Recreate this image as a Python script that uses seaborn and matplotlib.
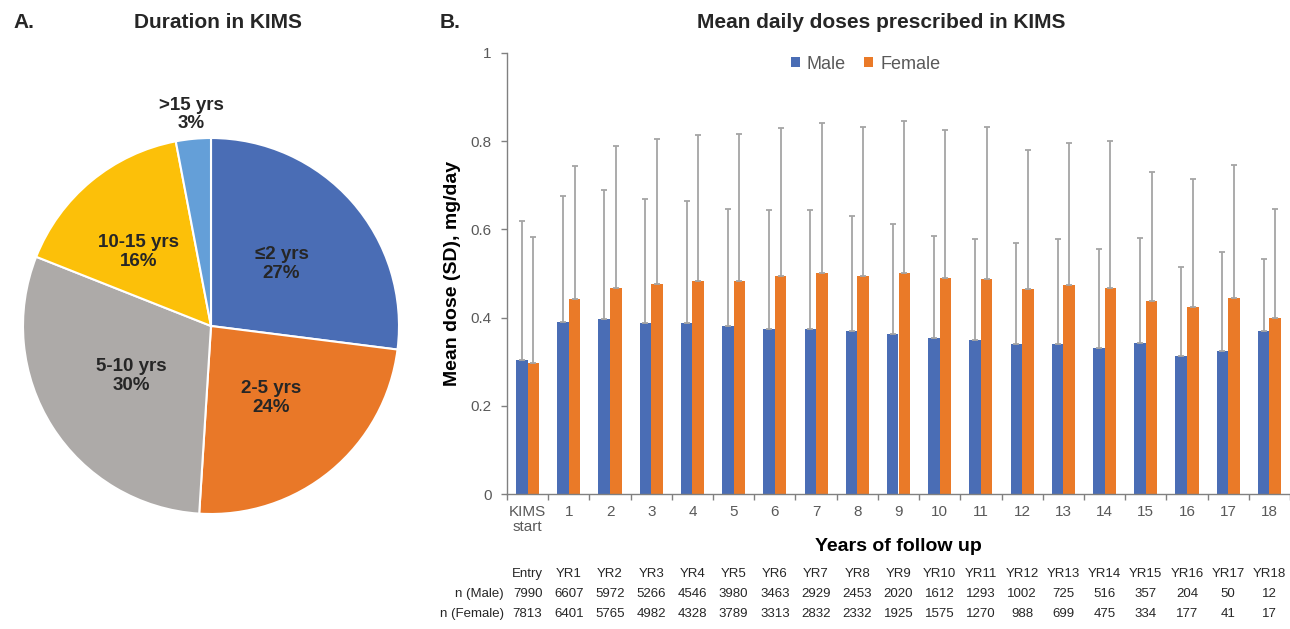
import numpy as np
import pandas as pd
import matplotlib
matplotlib.use("Agg")
import matplotlib.pyplot as plt
import matplotlib.transforms as mtransforms
import seaborn as sns

# Panel A: duration in KIMS
duration_labels = ["≤2 yrs", "2-5 yrs", "5-10 yrs", "10-15 yrs", ">15 yrs"]
duration_pct = [27, 24, 30, 16, 3]
duration_colors = ["#4A6DB5", "#E97828", "#ADAAA8", "#FCC009", "#649FD8"]

# Panel B: mean daily dose (SD) by year of follow up
years = ["KIMS\nstart"] + [str(i) for i in range(1, 19)]
male_mean = [0.304, 0.391, 0.396, 0.387, 0.387, 0.380, 0.375, 0.375, 0.369, 0.362,
             0.353, 0.350, 0.341, 0.341, 0.332, 0.343, 0.313, 0.325, 0.369]
male_sd = [0.315, 0.284, 0.293, 0.281, 0.278, 0.267, 0.268, 0.268, 0.262, 0.251,
           0.232, 0.229, 0.228, 0.238, 0.224, 0.238, 0.201, 0.224, 0.163]
female_mean = [0.297, 0.442, 0.467, 0.476, 0.483, 0.483, 0.495, 0.502, 0.495, 0.502,
               0.490, 0.488, 0.465, 0.474, 0.467, 0.437, 0.424, 0.444, 0.400]
female_sd = [0.286, 0.302, 0.323, 0.328, 0.332, 0.334, 0.336, 0.339, 0.338, 0.344,
             0.335, 0.344, 0.316, 0.321, 0.334, 0.293, 0.290, 0.302, 0.247]
sex_colors = ["#4A6DB5", "#EA7A28"]

# table below the bar chart
table_cols = ["Entry"] + ["YR%d" % i for i in range(1, 19)]
n_male = [7990, 6607, 5972, 5266, 4546, 3980, 3463, 2929, 2453, 2020,
          1612, 1293, 1002, 725, 516, 357, 204, 50, 12]
n_female = [7813, 6401, 5765, 4982, 4328, 3789, 3313, 2832, 2332, 1925,
            1575, 1270, 988, 699, 475, 334, 177, 41, 17]

sns.set_theme(style="ticks")
plt.rcParams["font.family"] = ["Liberation Sans", "DejaVu Sans"]

W, H = 1290, 629
fig = plt.figure(figsize=(W / 100, H / 100), dpi=100)
fig.patch.set_facecolor("white")

# ---- pie ----
ax_pie = fig.add_axes([23 / W, (H - 514) / H, 376 / W, 376 / H])
wedges, texts = ax_pie.pie(
    duration_pct, colors=duration_colors, startangle=90, counterclock=False,
    labels=["%s\n%d%%" % (l, p) for l, p in zip(duration_labels, duration_pct)],
    labeldistance=0.5,
    wedgeprops=dict(edgecolor="white", linewidth=1.5),
    textprops=dict(fontsize=13.5, fontweight="bold", color="#262626",
                   ha="center", va="center", linespacing=1.15),
)
# small slice label sits outside
w = wedges[-1]
ang = np.deg2rad((w.theta1 + w.theta2) / 2)
texts[-1].set_position((1.13 * np.cos(ang), 1.13 * np.sin(ang)))
# 10-15 label a touch further out
w = wedges[3]
ang = np.deg2rad((w.theta1 + w.theta2) / 2 + 5)
texts[3].set_position((0.55 * np.cos(ang), 0.55 * np.sin(ang)))
ax_pie.set_xlim(-1, 1)
ax_pie.set_ylim(-1, 1)
ax_pie.set_aspect("equal")

# ---- bars ----
ax = fig.add_axes([507 / W, (H - 494) / H, 783 / W, 441 / H])
df = pd.DataFrame({
    "year": years * 2,
    "dose": male_mean + female_mean,
    "sex": ["Male"] * len(years) + ["Female"] * len(years),
})
sns.barplot(data=df, x="year", y="dose", hue="sex", order=years,
            hue_order=["Male", "Female"], palette=sex_colors, width=0.56,
            gap=0, errorbar=None, saturation=1, linewidth=0, ax=ax)

for cont, sd in zip(ax.containers, [male_sd, female_sd]):
    xs = [b.get_x() + b.get_width() / 2 for b in cont]
    hs = [b.get_height() for b in cont]
    ax.errorbar(xs, hs, yerr=[np.zeros(len(sd)), sd], fmt="none",
                ecolor="#A5A5A5", elinewidth=1.3, capsize=2.2, capthick=1.3)

ax.set_ylim(0, 1)
ax.set_xlim(-0.5, len(years) - 0.5)
ax.set_yticks([0, 0.2, 0.4, 0.6, 0.8, 1.0])
ax.set_yticklabels(["0", "0.2", "0.4", "0.6", "0.8", "1"])
ax.set_xticks(range(len(years)))
ax.set_xticklabels(years, linespacing=1.1)
ax.set_xticks(np.arange(-0.5, len(years), 1), minor=True)
ax.tick_params(axis="x", which="major", length=0, pad=8, labelsize=11, labelcolor="#595959")
ax.tick_params(axis="x", which="minor", length=4, width=1, color="#808080", direction="out")
ax.tick_params(axis="y", length=4, width=1, color="#808080", pad=7, labelsize=11,
               labelcolor="#595959", direction="out")
sns.despine(ax=ax)
for s in ["left", "bottom"]:
    ax.spines[s].set_color("#808080")
    ax.spines[s].set_linewidth(1)
ax.set_xlabel("Years of follow up", fontsize=14, fontweight="bold", labelpad=3, color="black")
ax.set_ylabel("Mean dose (SD), mg/day", fontsize=14, fontweight="bold", labelpad=7, color="black")

handles, labels = ax.get_legend_handles_labels()
ax.legend(handles[:2], labels[:2], loc="center", bbox_to_anchor=(0.458, 0.975),
          ncol=2, frameon=False, fontsize=13, handlelength=0.5, handleheight=0.5,
          handletextpad=0.4, columnspacing=1.0, labelcolor="#595959")

# ---- table under the x axis ----
trans = mtransforms.blended_transform_factory(ax.transData, fig.transFigure)
row_y = [1 - 574 / H, 1 - 594 / H, 1 - 614 / H]
tfont = dict(fontsize=9.5, color="#262626", ha="center", va="center",
             family=["Liberation Sans Narrow", "Liberation Sans", "DejaVu Sans"])
for i in range(len(years)):
    ax.text(i, row_y[0], table_cols[i], transform=trans, **tfont)
    ax.text(i, row_y[1], str(n_male[i]), transform=trans, **tfont)
    ax.text(i, row_y[2], str(n_female[i]), transform=trans, **tfont)
rfont = dict(tfont, ha="right")
fig.text(504 / W, row_y[1], "n (Male)", **rfont)
fig.text(504 / W, row_y[2], "n (Female)", **rfont)

# ---- titles ----
fig.text(13 / W, 1 - 23 / H, "A.", fontsize=15, fontweight="bold", ha="left", va="center")
fig.text(218 / W, 1 - 23 / H, "Duration in KIMS", fontsize=15, fontweight="bold",
         ha="center", va="center")
fig.text(440 / W, 1 - 23 / H, "B.", fontsize=15, fontweight="bold", ha="left", va="center")
fig.text(881 / W, 1 - 23 / H, "Mean daily doses prescribed in KIMS", fontsize=15,
         fontweight="bold", ha="center", va="center")

fig.savefig("out.png", dpi=100, facecolor="white")
